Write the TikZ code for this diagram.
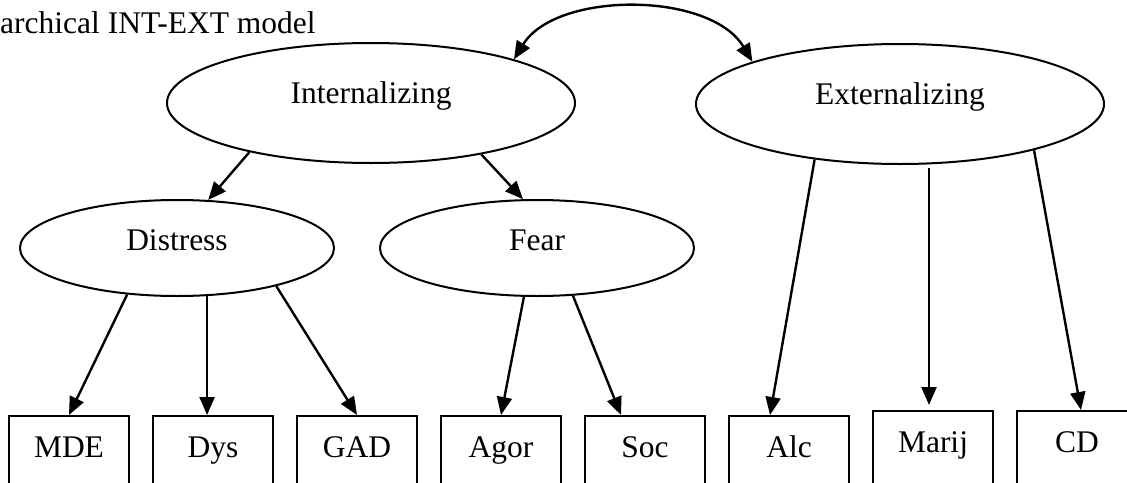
\documentclass[tikz,border=0pt]{standalone}
\usepackage{fontspec}
\setmainfont{Liberation Serif}
\usetikzlibrary{shapes,arrows.meta,positioning,calc}

\begin{document}
\begin{tikzpicture}[
    x=1pt, y=1pt,
    font=\fontsize{31.5}{36}\selectfont,
    factor/.style={ellipse, draw, line width=2pt, inner sep=0pt, minimum width=408pt, minimum height=120pt, text height=0.55em, text depth=0.45em},
    subfactor/.style={factor, minimum width=314pt, minimum height=96pt, text height=0.75em, text depth=0.2em},
    disorder/.style={draw, line width=2pt, inner sep=0pt, minimum width=120pt, text height=41pt, text depth=50pt},
    arrow/.style={line width=2.4pt, -{Triangle[length=18pt,width=15pt]}},
    twoway/.style={line width=2.4pt, {Triangle[length=18pt,width=15pt]}-{Triangle[length=18pt,width=15pt]}}
]
\useasboundingbox (0,0) rectangle (1127,-482);
\clip (0,0) rectangle (1127,-482);

% Title
\node[anchor=base west, inner sep=0pt] (title) at (0,-33) {archical INT-EXT model};

% Define nodes for the higher order factors
\node[factor] (int) at (371,-103) {Internalizing};
\node[factor] (ext) at (900,-104) {Externalizing};

% Define nodes for the subfactors
\node[subfactor] (dist) at (177,-248) {Distress};
\node[subfactor] (fear) at (537,-248) {Fear};

% Define nodes for the disorders
\node[disorder, anchor=north] (mde) at (69,-415) {MDE};
\node[disorder, right=22pt of mde] (dys) {Dys};
\node[disorder, right=22pt of dys] (gad) {GAD};
\node[disorder, right=22pt of gad] (agor) {Agor};
\node[disorder, right=22pt of agor] (soc) {Soc};
\node[disorder, right=22pt of soc] (alc) {Alc};
\node[disorder, right=22pt of alc, yshift=5pt] (marij) {Marij};
\node[disorder, right=22pt of marij] (cd) {CD};

% Connect everything with arrows
\draw[arrow] (int.202) -- (dist.57);
\draw[arrow] (int.335) -- (fear.106);

\draw[arrow] (dist.223) -- (mde.north);
\draw[arrow] (dist.302) -- (dist.302 |- dys.north);
\draw[arrow] (dist.339) -- (gad.north);

\draw[arrow] (fear.255) -- (agor.north);
\draw[arrow] (fear.307) -- ($(soc.north)+(-24,0)$);

\draw[arrow] (ext.213) -- ($(alc.north)+(-19,0)$);
\coordinate (marijstart) at ($(ext.south)+(29,-3)$);
\draw[arrow] (marijstart) -- ($(marijstart |- marij.north)+(0,5)$);
\draw[arrow] (ext.341) -- ($(cd.north)+(4,0)$);

% Correlation between the two factors
\draw[twoway] (int.17) .. controls (556,9) and (710,9) .. (ext.164);

\end{tikzpicture}
\end{document}
